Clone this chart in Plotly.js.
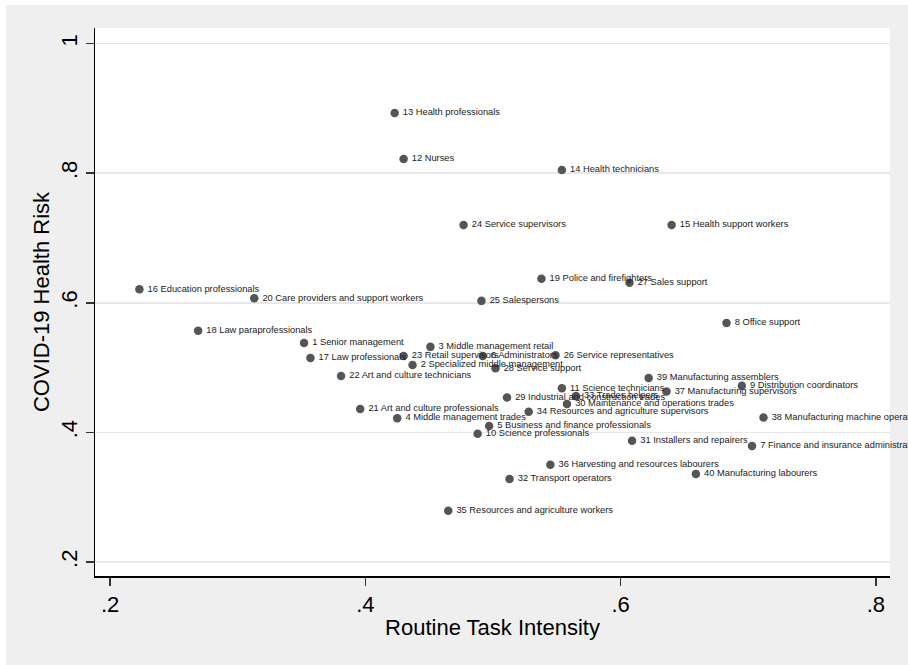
<!DOCTYPE html>
<html>
<head>
<meta charset="utf-8">
<script src="https://cdn.plot.ly/plotly-3.0.1.min.js"></script>
<style>
  html, body { margin: 0; padding: 0; background: #ffffff; width: 908px; height: 665px; overflow: hidden; }
  #chart { position: absolute; left: 6px; top: 5px; width: 902px; height: 660px; }
</style>
</head>
<body>
<div id="chart"></div>
<script>
const occupations = [
  "13 Health professionals", "12 Nurses", "14 Health technicians", "24 Service supervisors",
  "15 Health support workers", "19 Police and firefighters", "27 Sales support",
  "16 Education professionals", "20 Care providers and support workers", "25 Salespersons",
  "8 Office support", "18 Law paraprofessionals", "1 Senior management",
  "3 Middle management retail", "17 Law professionals", "23 Retail supervisors",
  "6 Administrators", "26 Service representatives", "2 Specialized middle management",
  "28 Service support", "22 Art and culture technicians", "39 Manufacturing assemblers",
  "9 Distribution coordinators", "11 Science technicians", "37 Manufacturing supervisors",
  "29 Industrial and construction trades", "33 Trades helpers",
  "30 Maintenance and operations trades", "34 Resources and agriculture supervisors",
  "21 Art and culture professionals", "4 Middle management trades",
  "38 Manufacturing machine operators", "5 Business and finance professionals",
  "10 Science professionals", "31 Installers and repairers",
  "7 Finance and insurance administrators", "36 Harvesting and resources labourers",
  "40 Manufacturing labourers", "32 Transport operators", "35 Resources and agriculture workers"
];
const routineTaskIntensity = [
  0.423, 0.430, 0.554, 0.477, 0.640, 0.538, 0.607, 0.223, 0.313, 0.491,
  0.683, 0.269, 0.352, 0.451, 0.357, 0.430, 0.492, 0.549, 0.437, 0.502,
  0.381, 0.622, 0.695, 0.554, 0.636, 0.511, 0.565, 0.558, 0.528, 0.396,
  0.425, 0.712, 0.497, 0.488, 0.609, 0.703, 0.545, 0.659, 0.513, 0.465
];
const healthRisk = [
  0.893, 0.822, 0.805, 0.720, 0.720, 0.637, 0.631, 0.621, 0.607, 0.603,
  0.569, 0.557, 0.538, 0.532, 0.515, 0.518, 0.518, 0.519, 0.504, 0.499,
  0.487, 0.484, 0.472, 0.468, 0.463, 0.454, 0.456, 0.444, 0.432, 0.436,
  0.422, 0.423, 0.410, 0.398, 0.387, 0.379, 0.350, 0.336, 0.328, 0.279
];
const xTickVals = [0.2, 0.4, 0.6, 0.8];
const xTickText = [".2", ".4", ".6", ".8"];
const yTickVals = [0.2, 0.4, 0.6, 0.8, 1.0];
const yTickText = [".2", ".4", ".6", ".8", "1"];

const trace = {
  type: "scatter",
  mode: "markers+text",
  x: routineTaskIntensity,
  y: healthRisk,
  text: occupations.map(s => "\u2009" + s),
  textposition: "middle right",
  textfont: { family: "Liberation Sans, Arial, sans-serif", size: 9.3, color: "#1a1a1a" },
  marker: { size: 8.5, color: "#555555", line: { width: 0 } },
  cliponaxis: false,
  hoverinfo: "skip",
  showlegend: false
};

const layout = {
  width: 902,
  height: 660,
  margin: { l: 89, r: 18, t: 23, b: 89 },
  paper_bgcolor: "#efefef",
  plot_bgcolor: "#ffffff",
  font: { family: "Liberation Sans, Arial, sans-serif", color: "#000000" },
  showlegend: false,
  xaxis: {
    range: [0.1882, 0.8111],
    tickvals: xTickVals,
    ticktext: xTickText,
    ticks: "outside",
    ticklen: 8,
    tickwidth: 1.5,
    tickcolor: "#333333",
    tickfont: { size: 22, color: "#000000" },
    showgrid: false,
    zeroline: false,
    showline: true,
    linecolor: "#000000",
    linewidth: 1.5,
    title: { text: "Routine Task Intensity", font: { size: 22, color: "#000000" }, standoff: 3 }
  },
  yaxis: {
    range: [0.1784, 1.0241],
    tickvals: yTickVals,
    ticktext: yTickText,
    tickangle: -90,
    ticks: "outside",
    ticklen: 8,
    tickwidth: 1.5,
    tickcolor: "#333333",
    tickfont: { size: 22, color: "#000000" },
    showgrid: true,
    gridcolor: "#e8e8e8",
    gridwidth: 1.5,
    zeroline: false,
    showline: true,
    linecolor: "#000000",
    linewidth: 1.5,
    title: { text: "COVID-19 Health Risk", font: { size: 22, color: "#000000" }, standoff: 1 }
  }
};

Plotly.newPlot("chart", [trace], layout, { displayModeBar: false, staticPlot: true });
</script>
</body>
</html>
